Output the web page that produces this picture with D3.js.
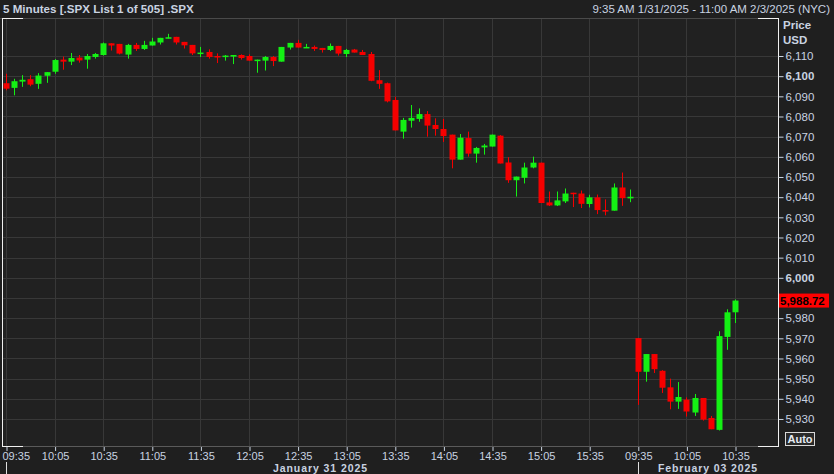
<!DOCTYPE html>
<html><head><meta charset="utf-8">
<script src="https://cdn.jsdelivr.net/npm/d3@7/dist/d3.min.js"></script>
<style>html,body{margin:0;padding:0;background:#1f1f1f;overflow:hidden}
text{font-family:"Liberation Sans",Arial,sans-serif}</style>
</head><body><svg id="c" width="834" height="474"></svg>
<script>
// ---- categories (5-minute slots) ----
const day1Times = ["09:35","09:40","09:45","09:50","09:55","10:00","10:05","10:10","10:15","10:20","10:25","10:30",
"10:35","10:40","10:45","10:50","10:55","11:00","11:05","11:10","11:15","11:20","11:25","11:30",
"11:35","11:40","11:45","11:50","11:55","12:00","12:05","12:10","12:15","12:20","12:25","12:30",
"12:35","12:40","12:45","12:50","12:55","13:00","13:05","13:10","13:15","13:20","13:25","13:30",
"13:35","13:40","13:45","13:50","13:55","14:00","14:05","14:10","14:15","14:20","14:25","14:30",
"14:35","14:40","14:45","14:50","14:55","15:00","15:05","15:10","15:15","15:20","15:25","15:30",
"15:35","15:40","15:45","15:50","15:55","16:00"];
const day2Times = ["09:35","09:40","09:45","09:50","09:55","10:00","10:05","10:10","10:15","10:20","10:25","10:30",
"10:35","10:40","10:45","10:50","10:55","11:00"];
const day1Label = "January 31 2025";
const day2Label = "February 03 2025";

// ---- OHLC series (first 78 = Jan 31, rest = Feb 3) ----
const open = [6096.5,6094.2,6097.3,6098.5,6096.2,6100.2,6102.2,6108.2,6107.2,6109.2,6108.2,6109.5,
6110.5,6116.3,6116.0,6110.7,6115.5,6113.5,6115.2,6116.7,6118.7,6119.5,6117.0,6115.5,
6111.2,6112.0,6110.0,6109.7,6109.7,6110.5,6110.0,6107.7,6107.7,6109.5,6107.2,6114.2,
6116.5,6114.2,6114.5,6114.0,6113.0,6115.0,6111.0,6113.2,6112.0,6111.0,6098.0,6096.5,
6088.2,6072.5,6077.9,6078.8,6081.2,6075.8,6073.8,6071.0,6058.6,6069.3,6061.6,6064.7,
6065.1,6070.5,6057.2,6048.4,6049.6,6054.7,6057.1,6037.4,6035.9,6037.9,6042.2,6041.8,
6036.6,6039.9,6033.6,6033.3,6044.8,6039.4,
5970.1,5953.4,5962.2,5953.9,5945.7,5938.6,5939.6,5933.2,5940.4,5930.5,5924.6,5970.7,5982.9];
const high = [6101.2,6098.7,6100.5,6100.5,6101.5,6102.0,6108.5,6109.7,6111.5,6110.5,6111.0,6111.5,
6116.7,6116.3,6116.0,6116.0,6116.5,6117.5,6119.0,6119.0,6121.0,6119.5,6117.0,6115.5,
6114.5,6113.3,6111.3,6110.5,6110.5,6110.8,6110.8,6108.2,6110.0,6110.0,6114.5,6116.5,
6118.0,6116.0,6115.2,6114.0,6116.2,6115.0,6113.5,6113.5,6113.0,6112.0,6103.0,6096.8,
6089.8,6079.3,6085.7,6084.0,6082.7,6079.1,6078.8,6071.0,6071.3,6072.5,6064.9,6066.4,
6071.0,6070.8,6059.8,6050.2,6057.1,6060.1,6057.1,6042.8,6042.8,6044.3,6042.2,6043.3,
6041.2,6041.3,6038.9,6046.8,6052.2,6043.8,
5970.1,5962.2,5962.2,5954.2,5950.0,5948.3,5940.7,5942.4,5940.4,5931.5,5973.5,5984.4,5989.3];
const low = [6093.0,6090.5,6094.7,6095.0,6093.7,6096.7,6101.2,6103.2,6105.5,6106.7,6103.7,6108.7,
6110.2,6112.7,6110.8,6108.7,6112.5,6113.0,6115.2,6115.7,6118.7,6115.7,6113.7,6110.5,
6109.5,6108.7,6106.5,6107.7,6106.0,6108.2,6107.7,6101.7,6102.8,6105.0,6107.2,6113.2,
6114.2,6114.2,6112.5,6111.7,6112.5,6110.2,6109.5,6111.7,6110.5,6097.5,6093.7,6087.0,
6073.1,6069.0,6074.5,6077.4,6070.0,6070.5,6067.4,6054.3,6058.6,6060.1,6057.1,6061.1,
6065.1,6056.7,6047.1,6040.3,6046.8,6054.3,6037.1,6035.6,6035.6,6037.1,6035.1,6034.6,
6034.9,6031.6,6031.0,6033.3,6035.7,6037.5,
5937.0,5948.5,5952.8,5942.9,5934.8,5935.0,5931.2,5931.5,5929.2,5924.9,5924.3,5964.3,5977.6];
const close = [6093.8,6097.5,6098.2,6095.8,6100.3,6102.0,6108.0,6107.2,6109.0,6107.8,6110.0,6111.0,
6116.3,6115.2,6111.2,6115.5,6113.5,6115.5,6117.2,6119.0,6119.3,6116.7,6115.3,6111.3,
6111.7,6109.5,6109.5,6110.2,6110.5,6109.0,6107.7,6108.2,6109.5,6107.5,6114.5,6116.5,
6114.2,6114.5,6113.5,6113.0,6115.0,6111.2,6113.0,6111.7,6110.5,6097.7,6096.2,6087.5,
6073.1,6078.3,6079.3,6081.2,6075.5,6073.8,6070.3,6058.6,6069.5,6061.6,6064.4,6065.6,
6071.0,6056.7,6048.4,6050.2,6054.7,6057.1,6037.1,6035.9,6038.4,6041.8,6041.7,6036.7,
6039.9,6033.6,6033.3,6044.8,6039.5,6040.2,
5953.4,5962.2,5954.7,5945.5,5938.6,5940.9,5933.7,5940.4,5929.7,5924.9,5971.1,5982.9,5988.72];

// ---- tick labels ----
const xTickDay1 = ["09:35","10:05","10:35","11:05","11:35","12:05","12:35","13:05","13:35","14:05","14:35","15:05","15:35"];
const xTickDay2 = ["09:35","10:05","10:35"];
const yTicks = [5930,5940,5950,5960,5970,5980,5990,6000,6010,6020,6030,6040,6050,6060,6070,6080,6090,6100,6110];
const yTickHidden = [5990]; // covered by last-price tag
const titleLeft = "5 Minutes [.SPX List 1 of 505] .SPX";
const titleRight = "9:35 AM 1/31/2025 - 11:00 AM 2/3/2025 (NYC)";

// ---- layout ----
const W = 834, H = 474;
const plot = {l: 2, r: 778, t: 19, b: 446};
const TXT = "#c9d3e1", GRID = "#383838", UP = "#14f014", DN = "#f50000";

const slots = day1Times.map(t => "1|" + t).concat(day2Times.map(t => "2|" + t));
const candles = open.map((o, i) => ({key: slots[i], o, h: high[i], l: low[i], c: close[i]}));

const svg = d3.select("#c");
svg.append("rect").attr("width", W).attr("height", H).attr("fill", "#1f1f1f");
svg.append("rect").attr("x", plot.l).attr("y", plot.t).attr("width", plot.r - plot.l).attr("height", plot.b - plot.t).attr("fill", "#212121");

const x = d3.scalePoint().domain(slots).range([6, 775.5]);
const y = d3.scaleLinear().domain([5916.6, 6128.35]).range([plot.b, plot.t]);

const xTickKeys = xTickDay1.map(t => "1|" + t).concat(xTickDay2.map(t => "2|" + t));

// grid
const g = svg.append("g");
g.selectAll("line.h").data(yTicks).join("line")
  .attr("x1", plot.l).attr("x2", plot.r)
  .attr("y1", d => Math.round(y(d)) + 0.5).attr("y2", d => Math.round(y(d)) + 0.5)
  .attr("stroke", GRID).attr("stroke-width", 1);
g.selectAll("line.v").data(xTickKeys).join("line")
  .attr("y1", plot.t).attr("y2", plot.b)
  .attr("x1", d => Math.round(x(d)) + 0.5).attr("x2", d => Math.round(x(d)) + 0.5)
  .attr("stroke", GRID).attr("stroke-width", 1);

// candles
const bw = 6;
const cg = svg.append("g");
cg.selectAll("line.w").data(candles).join("line")
  .attr("x1", d => Math.round(x(d.key)) + 0.5).attr("x2", d => Math.round(x(d.key)) + 0.5)
  .attr("y1", d => y(d.h)).attr("y2", d => y(d.l))
  .attr("stroke", d => d.c >= d.o ? UP : DN).attr("stroke-width", 1);
cg.selectAll("rect.b").data(candles).join("rect")
  .attr("x", d => Math.round(x(d.key)) - bw / 2 + 0.5)
  .attr("width", bw + 0)
  .attr("y", d => y(Math.max(d.o, d.c)))
  .attr("height", d => Math.max(1.5, Math.abs(y(d.o) - y(d.c))))
  .attr("fill", d => d.c >= d.o ? UP : DN);

// frame
svg.append("line").attr("x1", 0).attr("x2", plot.r).attr("y1", plot.t - 0.5).attr("y2", plot.t - 0.5).attr("stroke", "#4a4a4a");
svg.append("line").attr("x1", plot.l).attr("x2", plot.r).attr("y1", plot.b + 0.5).attr("y2", plot.b + 0.5).attr("stroke", "#5a5a5a");
const WF = "#f0f0f0";
[[plot.l + 0.5, plot.t - 0.5, plot.l + 0.5, plot.b + 0.5], [plot.r + 0.5, plot.t - 0.5, plot.r + 0.5, plot.b + 0.5],
 [plot.l, plot.t - 0.5, plot.l + 21, plot.t - 0.5], [plot.l, plot.b + 0.5, plot.l + 21, plot.b + 0.5],
 [plot.r - 20, plot.t - 0.5, plot.r + 1, plot.t - 0.5], [plot.r - 20, plot.b + 0.5, plot.r + 1, plot.b + 0.5]]
  .forEach(a => svg.append("line").attr("x1", a[0]).attr("y1", a[1]).attr("x2", a[2]).attr("y2", a[3]).attr("stroke", WF).attr("stroke-width", 1));

// y axis
const yAxis = d3.axisRight(y).tickValues(yTicks.filter(v => !yTickHidden.includes(v)))
  .tickSize(5).tickPadding(2).tickFormat(d3.format(","));
const ya = svg.append("g").attr("transform", `translate(${plot.r + 0.5},0)`).call(yAxis);
ya.select(".domain").remove();
ya.selectAll(".tick line").attr("stroke", TXT);
ya.selectAll(".tick text").attr("fill", TXT).attr("font-size", 11.5).attr("font-family", "Liberation Sans, Arial, sans-serif")
  .attr("font-weight", d => d % 100 === 0 ? "bold" : "normal");

svg.append("text").attr("x", 783).attr("y", 29).attr("fill", TXT).attr("font-size", 11.5).attr("font-weight", "bold").text("Price");
svg.append("text").attr("x", 783).attr("y", 44).attr("fill", TXT).attr("font-size", 11.5).attr("font-weight", "bold").text("USD");

// last price tag
const last = close[close.length - 1];
svg.append("rect").attr("x", plot.r + 1).attr("y", y(last) - 7).attr("width", 50).attr("height", 14).attr("fill", "#ff0000");
svg.append("text").attr("x", plot.r + 2).attr("y", y(last) + 4.5).attr("fill", "#000").attr("font-size", 11.5).attr("font-weight", "bold")
  .text(d3.format(",.2f")(last));

// Auto button
svg.append("rect").attr("x", 785.5).attr("y", 432.5).attr("width", 29).attr("height", 13).attr("fill", "#2a2a2a").attr("stroke", "#d8d8d8");
svg.append("text").attr("x", 800).attr("y", 443).attr("text-anchor", "middle").attr("fill", "#e6ecf4").attr("font-size", 11).attr("font-weight", "bold").text("Auto");

// x axis
const xAxis = d3.axisBottom(x).tickValues(xTickKeys).tickSize(4).tickPadding(2).tickFormat(k => k.split("|")[1]);
const xa = svg.append("g").attr("transform", `translate(0.5,${plot.b + 1})`).call(xAxis);
xa.select(".domain").remove();
xa.selectAll(".tick line").attr("stroke", TXT);
xa.selectAll(".tick text").attr("fill", TXT).attr("font-size", 11).attr("font-family", "Liberation Sans, Arial, sans-serif")
  .attr("y", 13).attr("dy", null);
// first label is pushed right so it stays inside the picture
xa.selectAll(".tick text").filter((d, i) => i === 0).attr("text-anchor", "start").attr("x", -4.5);

// day separators and labels
["1|09:35", "2|09:35"].forEach(k => {
  svg.append("line").attr("x1", Math.round(x(k)) + 0.5).attr("x2", Math.round(x(k)) + 0.5).attr("y1", 462).attr("y2", 474).attr("stroke", "#e0e0e0");
});
svg.append("text").attr("x", 273).attr("y", 472).attr("fill", TXT).attr("font-size", 10.5).attr("font-weight", "bold")
  .attr("textLength", 94).attr("lengthAdjust", "spacing").text(day1Label);
svg.append("text").attr("x", 658).attr("y", 472).attr("fill", TXT).attr("font-size", 10.5).attr("font-weight", "bold")
  .attr("textLength", 99).attr("lengthAdjust", "spacing").text(day2Label);

// titles
svg.append("text").attr("x", 3).attr("y", 13).attr("fill", TXT).attr("font-size", 11.6).attr("font-weight", "bold").text(titleLeft);
svg.append("text").attr("x", 830).attr("y", 13).attr("text-anchor", "end").attr("fill", TXT).attr("font-size", 11.5).text(titleRight);
</script></body></html>
